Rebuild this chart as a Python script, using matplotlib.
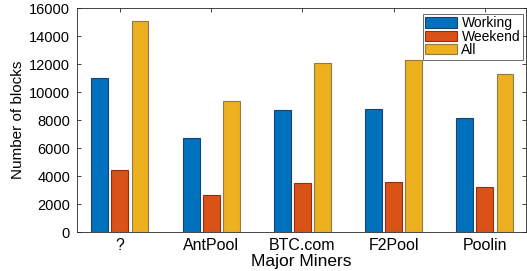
import matplotlib
matplotlib.use("Agg")
import matplotlib.pyplot as plt
import numpy as np

categories = ["?", "AntPool", "BTC.com", "F2Pool", "Poolin"]
working = [11000, 6750, 8700, 8780, 8130]
weekend = [4420, 2620, 3480, 3570, 3210]
all_blocks = [15050, 9380, 12050, 12320, 11320]
series_names = ["Working", "Weekend", "All"]
yticks = [0, 2000, 4000, 6000, 8000, 10000, 12000, 14000, 16000]

plt.rcParams['font.family'] = ['Liberation Sans', 'DejaVu Sans']

fig = plt.figure(figsize=(5.27, 2.71), dpi=100)
ax = fig.add_axes([77/527, 39/271, 449/527, 224/271])

x = np.arange(1, len(categories) + 1)
colors = ["#0072BD", "#D95319", "#EDB120"]
edges = ["#1f3f6e", "#9c2a0c", "#8f7a4a"]
offs = [-0.22, 0.0, 0.22]
w = 0.185
for vals, c, e, o, n in zip([working, weekend, all_blocks], colors, edges, offs, series_names):
    ax.bar(x + o, vals, width=w, color=c, edgecolor=e, linewidth=0.8, label=n, zorder=2)

ax.set_xlim(0.53, 5.45)
ax.set_ylim(0, 16000)
ax.set_yticks(yticks)
ax.set_xticks(x)
ax.set_xticklabels(categories, fontsize=11.5)
ax.tick_params(axis='y', labelsize=10.5, pad=5)
ax.tick_params(axis='x', pad=4)
ax.tick_params(direction='in', length=3, width=0.6, color='#262626', top=True, right=True)
for s in ax.spines.values():
    s.set_color('#262626')
    s.set_linewidth(0.6)
ax.set_xlabel("Major Miners", fontsize=12.5, labelpad=1)
ax.set_ylabel("Number of blocks", fontsize=11, labelpad=3)

leg = ax.legend(loc='upper right', fontsize=10, frameon=True, fancybox=False,
                edgecolor='#262626', handlelength=2.3, handleheight=0.75,
                borderpad=0.2, labelspacing=-0.05, handletextpad=0.3,
                bbox_to_anchor=(0.993, 0.975), borderaxespad=0)
leg.get_frame().set_linewidth(0.6)

fig.savefig("out.png", dpi=100)
